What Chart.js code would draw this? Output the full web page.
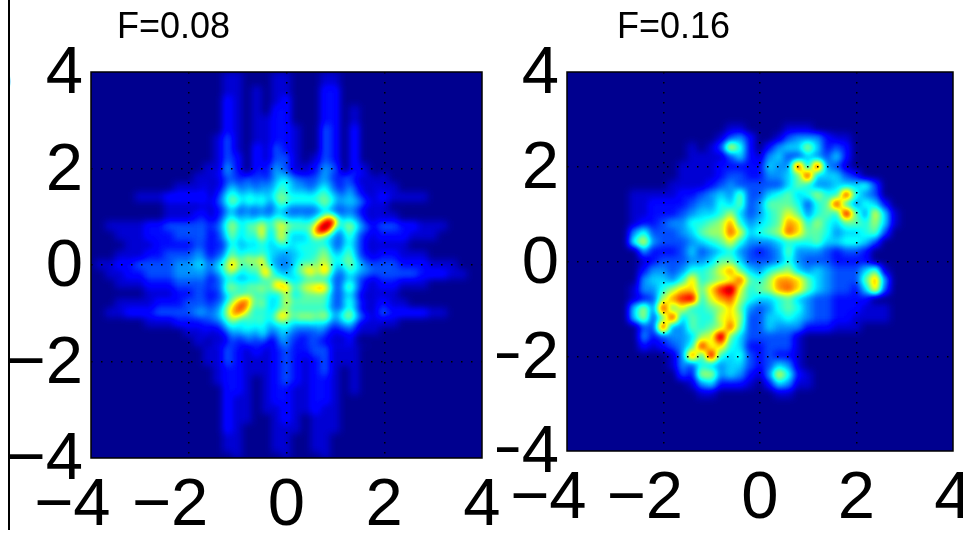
<!DOCTYPE html>
<html>
<head>
<meta charset="utf-8">
<script src="https://cdn.jsdelivr.net/npm/chart.js@4"></script>
<style>
  html, body { margin: 0; background: #fff; overflow: hidden; }
  #wrap { position: relative; width: 963px; height: 533px; overflow: hidden; }
  #wrap canvas { position: absolute; left: 0; top: 0; }
  #right { clip-path: inset(0 0 0 497px); }
  #rule { position: absolute; left: 8px; top: 0; width: 2px; height: 530px; background: #000; }
  #clip { position: absolute; left: 10px; top: 66px; width: 2px; height: 25px; overflow: hidden; }
  #clip span { position: absolute; right: 0; top: -8px; font: 34px "Liberation Sans"; line-height: 40px; }
</style>
</head>
<body>
<div id="wrap">
  <div id="rule"></div>
  <div id="clip"><span>)</span></div>
  <canvas id="left" width="963" height="533"></canvas>
  <canvas id="right" width="963" height="533"></canvas>
</div>
<script>
const titles = ['F=0.08', 'F=0.16'];
const xTickLabels = ['\u22124\u2007', '\u22122\u2007', '0', '2', '4'];
const yTickLabels = ['\u22124', '\u22122', '0', '2', '4'];

// levels, 0 (dark blue) to f (dark red), top row first, 0.2 units apart
const gridF008 = [
  '0000000000 0000110001 1000110000 0000000000 0',
  '0000000000 0000110001 1000110000 0000000000 0',
  '0000000000 0000110101 1000220000 0000000000 0',
  '0000000000 0000210101 2000220000 0000000000 0',
  '0000000000 0000210102 2000220100 0000000000 0',
  '0000000000 0000210112 2000220100 0000000000 0',
  '0000000000 0000210112 2100320200 0000000000 0',
  '0000000000 0001310112 2100320200 0000000000 0',
  '0000000000 0001310213 2100320200 0000000000 0',
  '0000000000 0001320213 3101320200 0000000000 0',
  '0000000000 0011420224 3112430210 0000000000 0',
  '0000000000 0112431325 4212532320 1000000000 0',
  '0000000001 1123532436 5333643422 1100000000 0',
  '0000011122 2234754657 7667754422 2111100000 0',
  '0000000011 1123532435 6434543322 1000000000 0',
  '0000000011 1234643547 6567eb4432 1100000000 0',
  '0011112233 33468787aa 877cf95843 3322111000 0',
  '0001112223 33457678aa 7666643643 2221110000 0',
  '0000111222 2334756676 6676643632 1110000000 0',
  '0001112233 3445766885 4567854632 2211100000 0',
  '0112233334 4567a798b5 4579967843 3322211100 0',
  '0011223334 44568679b6 57abb54643 3333222110 0',
  '0001112223 334677778b b69b953742 2211100000 0',
  '0000001112 2335666665 9666643532 1100000000 0',
  '0001111222 33468ba686 9777753632 2110000000 0',
  '0011222333 3456ac8669 a888744733 3222211000 0',
  '0000001112 2234666665 6555534532 1100000000 0',
  '0000000000 1123454553 5334322211 0000000000 0',
  '0000000000 0112332323 4233322110 0000000000 0',
  '0000000000 0011321212 3223311100 0000000000 0',
  '0000000000 0011321112 3212311100 0000000000 0',
  '0000000000 0001221112 3212310100 0000000000 0',
  '0000000000 0001221012 3212210100 0000000000 0',
  '0000000000 0000221012 2112210100 0000000000 0',
  '0000000000 0000211012 2112210000 0000000000 0',
  '0000000000 0000211011 2112110000 0000000000 0',
  '0000000000 0000211001 2101110000 0000000000 0',
  '0000000000 0000210001 1101110000 0000000000 0',
  '0000000000 0000110001 1001100000 0000000000 0',
  '0000000000 0000110001 1001100000 0000000000 0',
  '0000000000 0000010000 1000100000 0000000000 0',
];

// centre of the F=0.08 panel at 0.1 units apart, x from -1.6, y from 1.8
const fineF008 = [
  '11123 32233 23234 55433 33344 32233 21111',
  '11123 43343 34345 66544 33345 43233 21111',
  '11124 54344 34445 76544 43456 43234 32111',
  '11235 65455 45456 76555 54567 54335 32111',
  '11246 76566 56557 87666 66677 65445 43211',
  '12346 87567 57546 87666 66678 75455 54321',
  '11235 65354 45435 65444 44467 54344 43211',
  '11224 53343 34335 54333 33345 43334 32111',
  '11235 64454 45446 55445 44568 a6445 43211',
  '22246 76565 67668 76666 566ad fd566 54211',
  '23357 97578 7a768 b9777 779ef f9579 75432',
  '22346 86567 6b657 87666 67cff b5467 64321',
  '22246 86576 6b657 b7555 56a97 54357 53221',
  '22335 75566 58656 97555 56666 54356 53211',
  '22224 65455 56555 66566 66666 53356 43211',
  '22335 86566 67655 55556 66678 64467 53211',
  '22336 75666 56655 44455 66678 65567 53221',
  '33457 a8799 8c654 44556 66789 76678 64322',
  '34568 b8677 79754 43457 77789 75568 65433',
  '34568 b8668 69b65 44568 9b89d 85457 65443',
  '33457 75566 68c76 55567 8a87a 64346 54433',
  '22346 55455 56767 65555 66666 53345 43221',
  '23347 76667 6767c b9667 88888 63357 53211',
  '23348 87778 79779 9d868 9abdb 73368 53211',
  '22246 66566 67666 68656 77777 53345 42111',
  '22335 78ab9 67655 6a767 77777 53356 42111',
  '23347 8bcc8 69656 6a777 77777 53357 53211',
  '33458 acdb7 67655 68666 66666 43346 42111',
  '34468 bcb86 66657 a9777 77778 64578 63211',
  '34467 a9777 67668 ba779 89789 64578 64321',
  '23346 76566 67556 76656 56656 43456 42111',
  '22235 65666 56545 56544 44454 32334 31111',
  '11123 54555 46534 55433 33343 21223 21111',
  '11112 43344 35423 54332 23332 21112 10000',
  '01112 32233 23212 44322 23322 11112 10000',
];

const gridF016 = [
  '0000000000 0000000000 0000000000 0000000000 0',
  '0000000000 0000000000 0000000000 0000000000 0',
  '0000000000 0000000000 0000000000 0000000000 0',
  '0000000000 0000000000 0000000000 0000000000 0',
  '0000000000 0000000000 0000000000 0000000000 0',
  '0000000000 0000000000 0000000000 0000000000 0',
  '0000000000 0000000110 0001110000 0000000000 0',
  '0000000000 0000001342 0013444211 0000000000 0',
  '0000000000 0001013962 0245585232 0000000000 0',
  '0000000000 0001111352 1453354352 0000000000 0',
  '0000000000 0011112222 2544d5d431 0000000000 0',
  '0000000000 0011112332 24457d5553 2000000000 0',
  '0000000000 0111123433 3335764455 5630000000 0',
  '0000000111 1122345473 356756866d 6430000000 0',
  '0000000112 2223446573 47776367d6 4652000000 0',
  '0000000112 2234556853 467974676e 7495100000 0',
  '0000000122 3446678b64 567ba68657 7685100000 0',
  '0000000463 3345788c95 678ca77645 5673000000 0',
  '0000000694 3334567964 4456667556 6530000000 0',
  '0000000042 2235345643 2347444323 3200000000 0',
  '0000000012 3334457753 3346433322 2200000000 0',
  '0000000024 4346679b75 4678545433 3571000000 0',
  '0000000045 546a6789c7 68bba75433 37b4000000 0',
  '0000000144 68aa7adf96 78bca75433 25a3000000 0',
  '0000000123 8bde69bc86 5567543322 2200000000 0',
  '0000000584 d796678a74 3467643322 2111000000 0',
  '0000000583 7d57669a83 3556543322 1111000000 0',
  '0000000033 d447678c73 3544422211 1000000000 0',
  '0000000042 344589f753 3333100000 0000000000 0',
  '0000000021 2346d9a652 2333100000 0000000000 0',
  '0000000000 014c6e6563 2322100000 0000000000 0',
  '0000000000 0143654553 2354100000 0000000000 0',
  '0000000000 0032884542 1496210000 0000000000 0',
  '0000000000 0001452221 0254110000 0000000000 0',
  '0000000000 0000110000 0011000000 0000000000 0',
  '0000000000 0000000000 0000000000 0000000000 0',
  '0000000000 0000000000 0000000000 0000000000 0',
  '0000000000 0000000000 0000000000 0000000000 0',
  '0000000000 0000000000 0000000000 0000000000 0',
  '0000000000 0000000000 0000000000 0000000000 0',
  '0000000000 0000000000 0000000000 0000000000 0',
];

function gridToPoints(rows, x0, y0, step) {
  const pts = [];
  rows.forEach((row, r) => {
    row.replace(/ /g, '').split('').forEach((ch, c) => {
      pts.push({ x: x0 + c * step, y: y0 - r * step, v: parseInt(ch, 16) / 15 });
    });
  });
  return pts;
}

const clamp255 = n => Math.round(255 * Math.max(0, Math.min(1, n)));

// cells go down as grey levels, the plugin turns them into jet colours once smoothed
const heatPlugin = {
  id: 'heat',
  afterLayout(chart, args, opts) {
    chart.titleBlock.left = opts.titleLeft;
  },
  beforeDatasetsDraw(chart) {
    const a = chart.chartArea;
    chart.ctx.fillStyle = '#000';
    chart.ctx.fillRect(a.left, a.top, a.width, a.height);
  },
  afterDatasetsDraw(chart, args, opts) {
    const a = chart.chartArea, ctx = chart.ctx;
    const l = Math.round(a.left), t = Math.round(a.top), w = Math.round(a.width), h = Math.round(a.height);
    const off = document.createElement('canvas');
    off.width = w;
    off.height = h;
    const oc = off.getContext('2d', { willReadFrequently: true });
    oc.fillStyle = '#000';
    oc.fillRect(0, 0, w, h);
    oc.filter = `blur(${opts.blur}px)`;
    oc.drawImage(chart.canvas, l, t, w, h, 0, 0, w, h);
    const img = oc.getImageData(0, 0, w, h);
    const px = img.data;
    for (let i = 0; i < px.length; i += 4) {
      const v = px[i] / 255;
      px[i] = clamp255(Math.min(4 * v - 1.5, -4 * v + 4.5));
      px[i + 1] = clamp255(Math.min(4 * v - 0.5, -4 * v + 3.5));
      px[i + 2] = clamp255(Math.min(4 * v + 0.56, -4 * v + 2.5));
      px[i + 3] = 255;
    }
    ctx.putImageData(img, l, t);
  },
  afterDraw(chart) {
    const a = chart.chartArea, ctx = chart.ctx;
    ctx.save();
    ctx.strokeStyle = '#000';
    ctx.lineWidth = 1.5;
    ctx.strokeRect(a.left, a.top, a.width, a.height);
    ctx.restore();
  }
};

function cellDataset(points, step) {
  return {
    data: points,
    clip: 0,
    pointStyle: 'rect',
    pointBorderWidth: 0,
    pointBackgroundColor: c => {
      const g = Math.round(c.raw.v * 255);
      return `rgb(${g},${g},${g})`;
    },
    pointRadius: c => (c.chart.scales.x.width * step / 8 + 1) * Math.SQRT1_2,
    order: step,
  };
}

function makePanel(id, datasets, title, box) {
  const gridOpts = {
    z: 1,
    drawTicks: false,
    lineWidth: 1.5,
    color: c => (Math.abs(c.tick.value) === 4 ? 'transparent' : '#000'),
  };
  const font = { family: '"Liberation Sans"', size: 67 };
  return new Chart(document.getElementById(id), {
    type: 'scatter',
    data: { datasets },
    options: {
      responsive: false,
      animation: false,
      events: [],
      layout: { padding: { left: 0, top: 0, right: 963 - box.right, bottom: 0 } },
      plugins: {
        legend: { display: false },
        tooltip: { enabled: false },
        title: {
          display: true,
          text: title,
          align: 'start',
          fullSize: false,
          color: '#000',
          font: { family: '"Liberation Sans"', size: 36, weight: 'normal', lineHeight: 1 },
          padding: { top: 10, bottom: box.top - 46 },
        },
        heat: { titleLeft: box.titleLeft, blur: 3.5 },
      },
      scales: {
        x: {
          type: 'linear', min: -4, max: 4,
          grid: gridOpts,
          border: { display: false, dash: [1.5, 8.5] },
          afterFit: s => { s.height = 533 - box.bottom; s.paddingLeft = 0; s.paddingRight = 0; },
          ticks: {
            stepSize: 2, autoSkip: false, maxRotation: 0, padding: 8,
            color: '#000', font,
            callback: (v, i) => xTickLabels[i],
          },
        },
        y: {
          type: 'linear', min: -4, max: 4,
          grid: gridOpts,
          border: { display: false, dash: [1.5, 8.5] },
          afterFit: s => { s.width = box.left; s.paddingTop = 0; s.paddingBottom = 0; },
          ticks: {
            stepSize: 2, autoSkip: false, padding: 8, labelOffset: 3,
            color: '#000', font,
            callback: (v, i) => yTickLabels[i],
          },
        },
      },
    },
    plugins: [heatPlugin],
  });
}

makePanel('left', [
  cellDataset(gridToPoints(gridF008, -4, 4, 0.2), 0.2),
  cellDataset(gridToPoints(fineF008, -1.6, 1.8, 0.1), 0.1),
], titles[0], { left: 91, right: 482, top: 72, bottom: 458, titleLeft: 117 });
makePanel('right', [
  cellDataset(gridToPoints(gridF016, -4, 4, 0.2), 0.2),
], titles[1], { left: 567, right: 953, top: 72, bottom: 451, titleLeft: 617 });
</script>
</body>
</html>
